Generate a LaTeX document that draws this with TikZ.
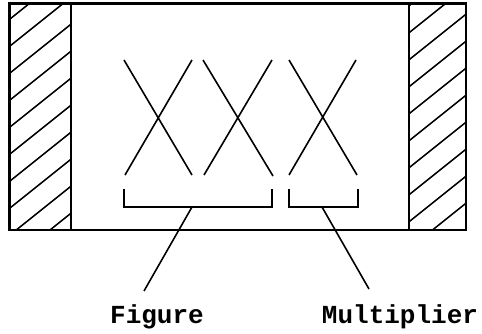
\documentclass[tikz,border=0pt]{standalone}
\usepackage{fontspec}
\setmonofont{Liberation Mono}
\begin{document}
\begin{tikzpicture}[x=1pt,y=-1pt,
  frame/.style={line width=2.3pt},
  strip/.style={line width=1.6pt},
  hatch/.style={line width=1.5pt},
  cross/.style={line width=1.6pt},
  bracket/.style={line width=1.5pt},
  leader/.style={line width=1.6pt},
  lbl/.style={font=\fontsize{26}{30}\selectfont\ttfamily\bfseries, inner sep=0pt, anchor=base}]
\useasboundingbox (0,0) rectangle (482,334);
% hatching
\begin{scope}
  \clip (9.5,3.5) rectangle (71,230);
  \foreach \k in {-1,...,12} \draw[hatch] (0,\k*27) -- ++(90,-72);
\end{scope}
\begin{scope}
  \clip (409,3.5) rectangle (466,230);
  \foreach \k in {-1,...,26} \draw[hatch] (400,\k*27-14) -- ++(90,-72);
\end{scope}
% frame and strips
\draw[frame] (9.5,3.5) rectangle (466,230);
\draw[strip] (71,3.5) -- (71,230);
\draw[strip] (409,3.5) -- (409,230);
% crosses
\draw[cross] (124,60) -- (192,175) (192,60) -- (125,175);
\draw[cross] (203,60) -- (273,176) (272,60) -- (204,175);
\draw[cross] (289,60) -- (357,175) (356,60) -- (289,175);
% brackets
\coordinate (b1) at (192,207);
\coordinate (b2) at (322,207);
\draw[bracket] (124,189) -- (124,207) -- (272,207) -- (272,189);
\draw[bracket] (289,189) -- (289,207) -- (358,207) -- (358,189);
% labels
\node[lbl] (fig) at (157,323) {Figure};
\node[lbl] (mul) at (400,323) {Multiplier};
\coordinate (f1) at (144,291);
\coordinate (m1) at (369,289);
\draw[leader] (b1) -- (f1);
\draw[leader] (b2) -- (m1);
\end{tikzpicture}
\end{document}
